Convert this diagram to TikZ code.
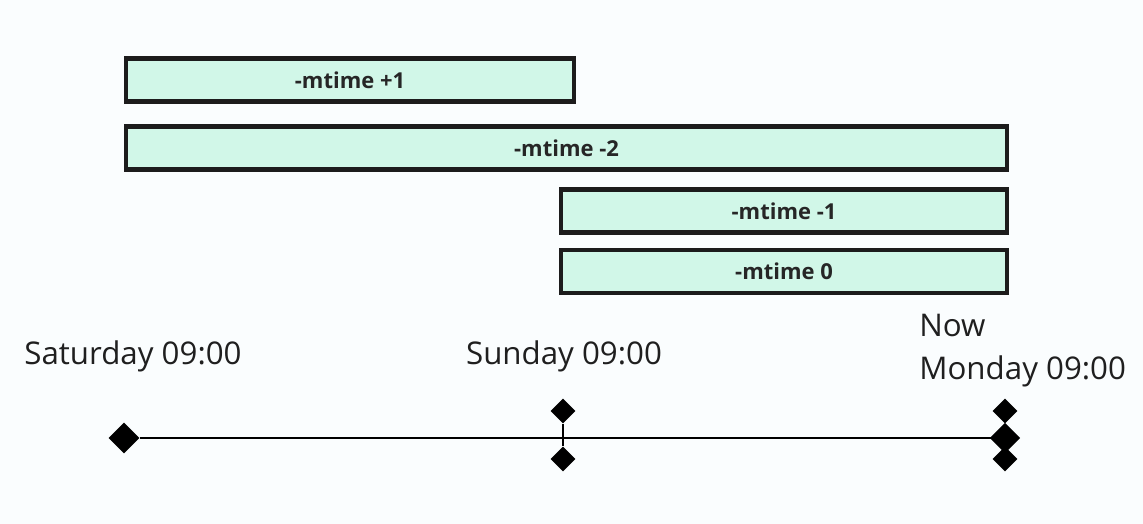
\documentclass[tikz,border=0pt]{standalone}
\usepackage{fontspec}
\setmainfont{Open Sans}
\usepackage{xcolor}
\usepackage{tikz}
\usetikzlibrary{shapes.geometric}
\usetikzlibrary{positioning}

\definecolor{pagebg}{HTML}{FAFDFE}
\definecolor{spanfill}{HTML}{D1F7E8}
\definecolor{spanline}{HTML}{1C1C1C}

\tikzset{
    span/.style={draw=spanline, line width=2.3pt, fill=spanfill, inner sep=0pt,
        minimum height=0.86cm, font=\fontsize{12.5}{14}\selectfont\bfseries, text=black!85},
    mark big/.style={diamond, fill=black, inner sep=0pt, minimum size=0.62cm},
    mark small/.style={diamond, fill=black, inner sep=0pt, minimum size=0.5cm},
    daylabel/.style={font=\fontsize{17.8}{24.4}\selectfont, text=black!88, align=left, inner sep=0pt},
}

\begin{document}
\begin{tikzpicture}[x=0.02cm, y=-0.02cm]
    \fill[pagebg] (0, 0) rectangle (1143, 524);
    \useasboundingbox (0, 0) rectangle (1143, 524);

    % spans
    \node[span, minimum width=8.96cm] (plusone)  at (350, 80)  {-mtime +1};
    \node[span, minimum width=17.62cm] (minustwo) at (566.5, 148) {-mtime -2};
    \node[span, minimum width=8.92cm] (minusone) at (784, 211) {-mtime -1};
    \node[span, minimum width=8.92cm] (zero)     at (784, 271.5) {-mtime 0};

    % timeline
    \node[mark big] (sat) at (124, 438) {};
    \node[mark small] (suntop) at (563, 411) {};
    \node[mark small] (sunbot) at (563, 459) {};
    \node[mark small] (montop) at (1005, 411) {};
    \node[mark small] (monbot) at (1005, 459) {};
    \draw[line width=1.1pt] (suntop) -- (sunbot);
    \draw[line width=1.1pt] (sat) -- (1005, 438) node[mark big] (mon) {};

    \node[daylabel] (satlabel) at (133, 356) {Saturday 09:00};
    \node[daylabel] (sunlabel) at (564, 356) {Sunday 09:00};
    \node[daylabel, anchor=west] (monlabel) at (919, 351) {Now\\Monday 09:00};
\end{tikzpicture}
\end{document}
